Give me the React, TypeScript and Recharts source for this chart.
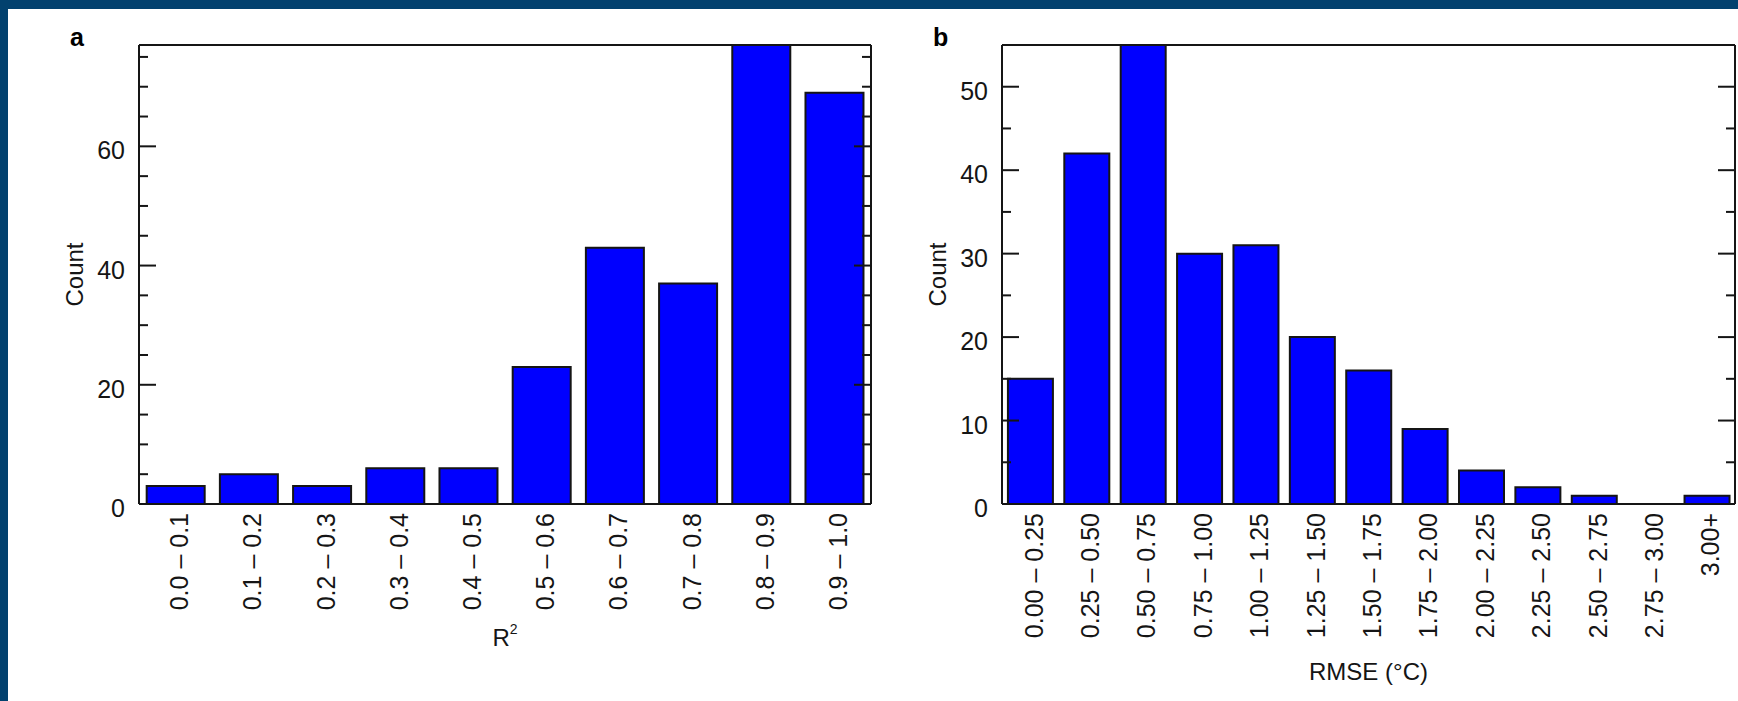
import React from 'react';
import { BarChart, Bar, XAxis, YAxis, Label } from 'recharts';

// panel a: R^2 histogram
const r2Bins = ['0.0 – 0.1', '0.1 – 0.2', '0.2 – 0.3', '0.3 – 0.4', '0.4 – 0.5', '0.5 – 0.6', '0.6 – 0.7', '0.7 – 0.8', '0.8 – 0.9', '0.9 – 1.0'];
const r2Counts = [3, 5, 3, 6, 6, 23, 43, 37, 77, 69];
const r2Ticks = [0, 5, 10, 15, 20, 25, 30, 35, 40, 45, 50, 55, 60, 65, 70, 75];
const r2Labelled = [0, 20, 40, 60];

// panel b: RMSE histogram
const rmseBins = ['0.00 – 0.25', '0.25 – 0.50', '0.50 – 0.75', '0.75 – 1.00', '1.00 – 1.25', '1.25 – 1.50', '1.50 – 1.75', '1.75 – 2.00', '2.00 – 2.25', '2.25 – 2.50', '2.50 – 2.75', '2.75 – 3.00', '3.00+'];
const rmseCounts = [15, 42, 55, 30, 31, 20, 16, 9, 4, 2, 1, 0, 1];
const rmseTicks = [0, 5, 10, 15, 20, 25, 30, 35, 40, 45, 50, 55];
const rmseLabelled = [0, 10, 20, 30, 40, 50];

const r2Data = r2Bins.map((bin, i) => ({ bin, count: r2Counts[i] }));
const rmseData = rmseBins.map((bin, i) => ({ bin, count: rmseCounts[i] }));

const FONT = '"Liberation Sans", Arial, Helvetica, sans-serif';
const INK = '#151515';
const BLUE_FRAME = '#02416e';

const LeftTick = ({ x, y, payload, labelled }: any) => {
    const major = labelled.includes(payload.value);
    return (
        <g>
            <line x1={x} x2={x + (major ? 17 : 9)} y1={y} y2={y} stroke={INK} strokeWidth={2} />
            {major && (
                <text x={x - 14} y={y + 4} textAnchor="end" dominantBaseline="central"
                    fontSize={25} fontFamily={FONT} fill={INK}>{payload.value}</text>
            )}
        </g>
    );
};

const RightTick = ({ x, y, payload, labelled }: any) => {
    const major = labelled.includes(payload.value);
    return <line x1={x} x2={x - (major ? 17 : 9)} y1={y} y2={y} stroke={INK} strokeWidth={2} />;
};

const BinTick = ({ x, y, payload }: any) => {
    const cx = x + 3.5;
    return (
        <text x={cx} y={y} transform={`rotate(-90, ${cx}, ${y})`} textAnchor="end" dominantBaseline="central"
            fontSize={25} fontFamily={FONT} fill={INK}>{payload.value}</text>
    );
};

const CountTitle = ({ viewBox, gap }: any) => {
    const x = viewBox.x + viewBox.width - gap;
    const y = viewBox.y + viewBox.height / 2;
    return (
        <text x={x} y={y} transform={`rotate(-90, ${x}, ${y})`} textAnchor="middle"
            fontSize={24} fontFamily={FONT} fill={INK}>Count</text>
    );
};

function Histogram({ data, ticks, labelled, max, width, rightMargin, yWidth, xTitle }: any) {
    return (
        <BarChart width={width} height={701} data={data} barCategoryGap="10.5%"
            margin={{ top: 44, right: rightMargin, left: 0, bottom: 0 }}>
            <XAxis dataKey="bin" interval={0} height={197} tickSize={0} tickMargin={9} tickLine={false}
                axisLine={{ stroke: INK, strokeWidth: 2 }} tick={<BinTick />}>
                <Label content={xTitle} />
            </XAxis>
            <XAxis xAxisId="top" dataKey="bin" orientation="top" height={1} tick={false} tickLine={false}
                axisLine={{ stroke: INK, strokeWidth: 2 }} />
            <YAxis yAxisId="left" domain={[0, max]} ticks={ticks} interval={0} width={yWidth} tickSize={0}
                tickMargin={0} tickLine={false} axisLine={{ stroke: INK, strokeWidth: 2 }}
                tick={<LeftTick labelled={labelled} />} allowDataOverflow>
                <Label content={<CountTitle gap={56} />} />
            </YAxis>
            <YAxis yAxisId="right" orientation="right" domain={[0, max]} ticks={ticks} interval={0} width={1}
                tickSize={0} tickMargin={0} tickLine={false} axisLine={{ stroke: INK, strokeWidth: 2 }}
                tick={<RightTick labelled={labelled} />} allowDataOverflow />
            <Bar yAxisId="left" dataKey="count" fill="#0000ff" stroke={INK} strokeWidth={2}
                isAnimationActive={false} />
        </BarChart>
    );
}

const R2Title = ({ viewBox }: any) => (
    <text x={viewBox.x + viewBox.width / 2} y={viewBox.y + 142} textAnchor="middle"
        fontSize={24} fontFamily={FONT} fill={INK}>
        R<tspan fontSize={14} dy={-12}>2</tspan>
    </text>
);

const RmseTitle = ({ viewBox }: any) => (
    <text x={viewBox.x + viewBox.width / 2} y={viewBox.y + 176} textAnchor="middle"
        fontSize={24} fontFamily={FONT} fill={INK}>RMSE (°C)</text>
);

const panelLetter: React.CSSProperties = {
    position: 'absolute', top: 25, fontFamily: FONT, fontWeight: 700, fontSize: 25, lineHeight: '24px', color: '#000'
};

export default function App() {
    return (
        <div style={{ position: 'absolute', left: 0, top: 0, width: 1738, height: 701, background: BLUE_FRAME, overflow: 'hidden' }}>
            <div style={{ position: 'absolute', left: 8, top: 9, width: 1730, height: 692, background: '#fff' }} />
            <div style={{ position: 'absolute', left: 0, top: 0 }}>
                <Histogram data={r2Data} ticks={r2Ticks} labelled={r2Labelled} max={77}
                    width={900} rightMargin={28} yWidth={139} xTitle={<R2Title />} />
            </div>
            <div style={{ position: 'absolute', left: 880, top: 0 }}>
                <Histogram data={rmseData} ticks={rmseTicks} labelled={rmseLabelled} max={55}
                    width={858} rightMargin={2} yWidth={122} xTitle={<RmseTitle />} />
            </div>
            <div style={{ ...panelLetter, left: 70 }}>a</div>
            <div style={{ ...panelLetter, left: 933 }}>b</div>
        </div>
    );
}
